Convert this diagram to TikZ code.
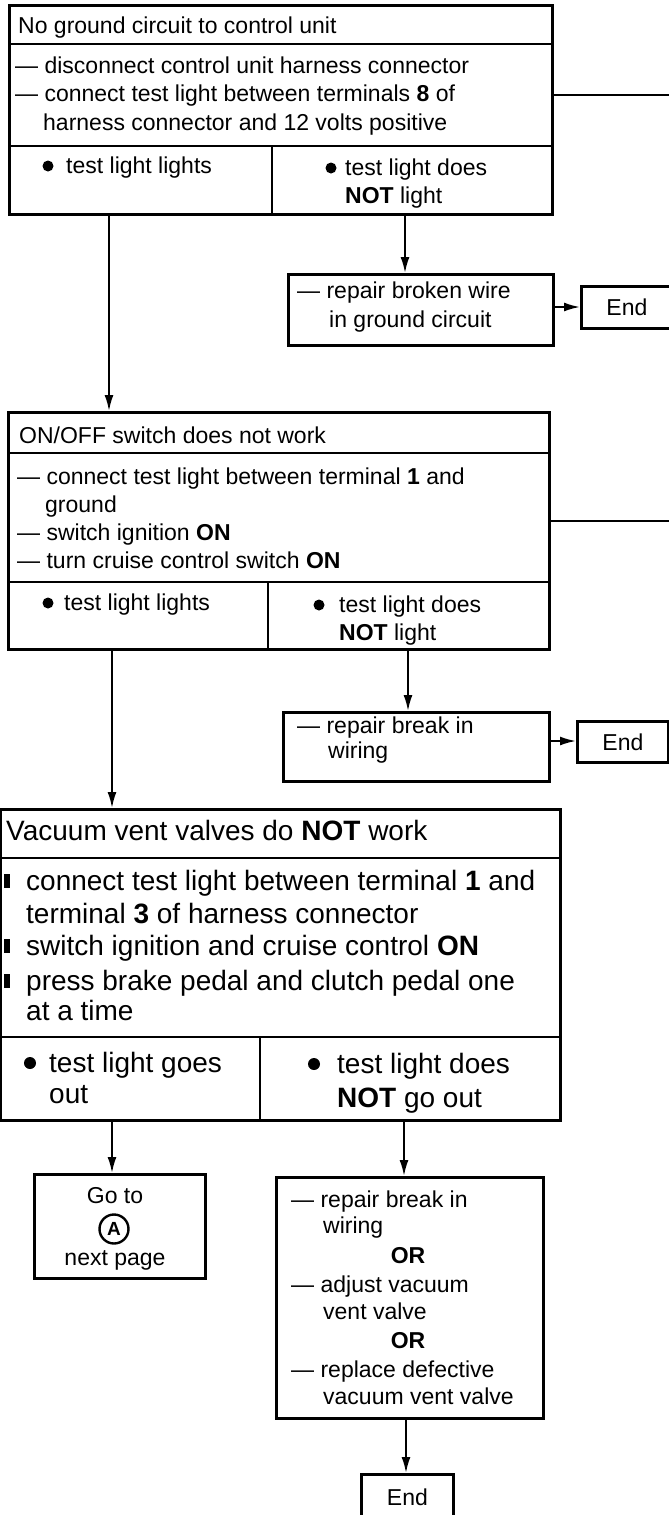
\documentclass[tikz,border=0pt]{standalone}
\usepackage{fontspec}
\setmainfont{Liberation Sans}
\usetikzlibrary{arrows.meta}
\newcommand\fsS{\fontsize{23}{28}\selectfont}
\newcommand\fsL{\fontsize{28}{33}\selectfont}
\begin{document}
\begin{tikzpicture}[x=1pt,y=-1pt,
  box/.style={draw, line width=2.8pt, inner sep=0pt, anchor=north west},
  sep/.style={line width=2.8pt},
  conn/.style={line width=2.6pt},
  arr/.style={line width=2pt, -{Latex[length=16pt,width=9pt]}},
  ts/.style={inner sep=0pt, anchor=base west, font=\fsS},
  tl/.style={inner sep=0pt, anchor=base west, font=\fsL},
  tc/.style={inner sep=0pt, anchor=base, font=\fsS},
]
\useasboundingbox (0,0) rectangle (669,1515);
\fill[white] (0,0) rectangle (669,1515);

% ---------- box 1 ----------
\node[box, minimum width=543pt, minimum height=209pt] (b1) at (8,4) {};
\draw[sep] (b1.west |- 0,44) -- (b1.east |- 0,44);
\draw[sep] (b1.west |- 0,146) -- (b1.east |- 0,146);
\draw[sep] (272,146) -- (b1.south -| 272,0);
\node[ts] (t11) at (18,33) {No ground circuit to control unit};
\node[ts] (t12) at (15,73) {— disconnect control unit harness connector};
\node[ts] (t13) at (15,101.5) {— connect test light between terminals \textbf{8} of};
\node[ts] (t14) at (43,130) {harness connector and 12 volts positive};
\fill (48,166) circle[radius=5.5pt];
\node[ts] (t15) at (66,173) {test light lights};
\fill (331,168) circle[radius=5.5pt];
\node[ts] (t16) at (345,175) {test light does};
\node[ts] (t17) at (345,203) {\textbf{NOT} light};
\coordinate (o1) at (672,95);
\draw[conn] (b1.east |- o1) -- (o1);

% ---------- repair 1 ----------
\node[box, minimum width=265pt, minimum height=71pt] (rep1) at (287,273) {};
\node[ts] (t18) at (297,298) {— repair broken wire};
\node[ts] (t19) at (329,327) {in ground circuit};
\node[box, minimum width=91pt, minimum height=42pt, font=\fsS] (end1) at (580,285) {End};
\draw[arr] (b1.south -| 405,0) -- (rep1.north -| 405,0);
\draw[arr] (rep1.east |- 0,307) -- (end1.west |- 0,307);

% ---------- box 2 ----------
\node[box, minimum width=541pt, minimum height=237pt] (b2) at (7,411) {};
\draw[sep] (b2.west |- 0,453) -- (b2.east |- 0,453);
\draw[sep] (b2.west |- 0,582) -- (b2.east |- 0,582);
\draw[sep] (268,582) -- (b2.south -| 268,0);
\node[ts] (t21) at (19,443) {ON/OFF switch does not work};
\node[ts] (t22) at (17,484) {— connect test light between terminal \textbf{1} and};
\node[ts] (t23) at (45,512) {ground};
\node[ts] (t24) at (17,540) {— switch ignition \textbf{ON}};
\node[ts] (t25) at (17,568) {— turn cruise control switch \textbf{ON}};
\fill (48,603) circle[radius=5.5pt];
\node[ts] (t26) at (64,610) {test light lights};
\fill (319,605) circle[radius=5.5pt];
\node[ts] (t27) at (339,612) {test light does};
\node[ts] (t28) at (339,640) {\textbf{NOT} light};
\coordinate (o2) at (672,521);
\draw[conn] (b2.east |- o2) -- (o2);
\draw[arr] (b1.south -| 109,0) -- (b2.north -| 109,0);

% ---------- repair 2 ----------
\node[box, minimum width=266pt, minimum height=69pt] (rep2) at (282,711) {};
\node[ts] (t29) at (297,733) {— repair break in};
\node[ts] (t2a) at (328,758) {wiring};
\node[box, minimum width=91pt, minimum height=41pt, font=\fsS] (end2) at (576,720) {End};
\draw[arr] (b2.south -| 408,0) -- (rep2.north -| 408,0);
\draw[arr] (rep2.east |- 0,741) -- (end2.west |- 0,741);

% ---------- box 3 ----------
\node[box, minimum width=560pt, minimum height=311pt] (b3) at (-1,808) {};
\draw[sep] (b3.west |- 0,858) -- (b3.east |- 0,858);
\draw[sep] (b3.west |- 0,1037) -- (b3.east |- 0,1037);
\draw[sep] (260,1037) -- (b3.south -| 260,0);
\node[tl] (t31) at (6,840) {Vacuum vent valves do \textbf{NOT} work};
\fill (4,874) rectangle (10,888);
\node[tl] (t32) at (26,890) {connect test light between terminal \textbf{1} and};
\node[tl] (t33) at (26,923) {terminal \textbf{3} of harness connector};
\fill (4,939) rectangle (10,953);
\node[tl] (t34) at (26,955) {switch ignition and cruise control \textbf{ON}};
\fill (4,974) rectangle (10,988);
\node[tl] (t35) at (26,990) {press brake pedal and clutch pedal one};
\node[tl] (t36) at (26,1020) {at a time};
\fill (30,1063) circle[radius=6pt];
\node[tl] (t37) at (49,1072) {test light goes};
\node[tl] (t38) at (49,1103) {out};
\fill (314,1064) circle[radius=6pt];
\node[tl] (t39) at (337,1073) {test light does};
\node[tl] (t3a) at (337,1107) {\textbf{NOT} go out};
\draw[arr] (b2.south -| 112,0) -- (b3.north -| 112,0);

% ---------- go to ----------
\node[box, minimum width=171pt, minimum height=104pt] (goto) at (33,1173) {};
\node[tc] (t41) at (115,1203) {Go to};
\node[draw, circle, line width=2.4pt, minimum size=29pt, inner sep=0pt,
      font=\fontsize{19}{19}\selectfont\bfseries] (ca) at (114,1229) {A};
\node[tc] (t42) at (115,1265) {next page};
\draw[arr] (b3.south -| 112,0) -- (goto.north -| 112,0);

% ---------- repair 3 ----------
\node[box, minimum width=267pt, minimum height=241pt] (rep3) at (275,1176) {};
\node[ts] (t51) at (291,1207) {— repair break in};
\node[ts] (t52) at (323,1233) {wiring};
\node[tc] (t53) at (408,1263) {\textbf{OR}};
\node[ts] (t54) at (291,1292) {— adjust vacuum};
\node[ts] (t55) at (323,1319) {vent valve};
\node[tc] (t56) at (408,1348) {\textbf{OR}};
\node[ts] (t57) at (291,1377) {— replace defective};
\node[ts] (t58) at (323,1404) {vacuum vent valve};
\draw[arr] (b3.south -| 404,0) -- (rep3.north -| 404,0);
\node[box, minimum width=92pt, minimum height=46pt, font=\fsS] (end3) at (360,1473) {End};
\draw[arr] (rep3.south -| 406,0) -- (end3.north -| 406,0);
\end{tikzpicture}
\end{document}
